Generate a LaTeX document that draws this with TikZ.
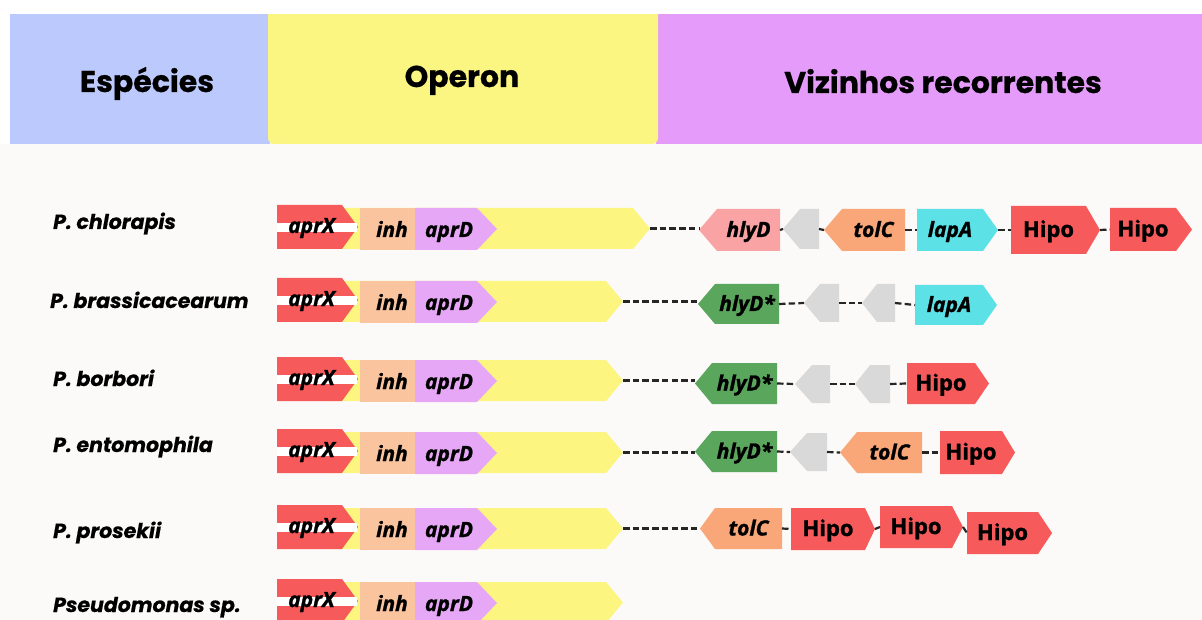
\documentclass[tikz,border=0pt]{standalone}
\usepackage{fontspec}
\setmainfont{Open Sans}
\newfontfamily\popfont{Poppins}[BoldFeatures={FakeBold=0.6},BoldItalicFeatures={FakeBold=0.6}]
\newfontfamily\osfont{Open Sans}[BoldFeatures={FakeBold=1.2},BoldItalicFeatures={FakeBold=1.2}]
\definecolor{bgc}{HTML}{FBFAF8}
\definecolor{hblue}{HTML}{BCC9FC}
\definecolor{hyel}{HTML}{FBF682}
\definecolor{hpur}{HTML}{E59BFA}
\definecolor{cred}{HTML}{F65A5A}
\definecolor{cyel}{HTML}{FCF680}
\definecolor{cinh}{HTML}{FAC49F}
\definecolor{capr}{HTML}{E6A8F6}
\definecolor{cpink}{HTML}{F9A3A5}
\definecolor{cgray}{HTML}{D9D9D9}
\definecolor{ctol}{HTML}{F9A778}
\definecolor{clap}{HTML}{5CE1E6}
\definecolor{cgreen}{HTML}{5AA65C}
\newcommand\geneR[7]{%
  \fill[#2] (#3,#6) -- (#4,#6) -- (#5,{(#6+#7)/2}) -- (#4,#7) -- (#3,#7) -- cycle;
  \coordinate (#1-w) at (#3,{(#6+#7)/2});
  \coordinate (#1-e) at (#5,{(#6+#7)/2});
  \coordinate (#1-c) at ({(#3+#4)/2},{(#6+#7)/2});}
\newcommand\geneL[7]{%
  \fill[#2] (#3,{(#6+#7)/2}) -- (#4,#6) -- (#5,#6) -- (#5,#7) -- (#4,#7) -- cycle;
  \coordinate (#1-w) at (#3,{(#6+#7)/2});
  \coordinate (#1-e) at (#5,{(#6+#7)/2});
  \coordinate (#1-c) at ({(#4+#5)/2},{(#6+#7)/2});}
\newcommand\operonrow[3]{%
  \geneR{#1yel}{cyel}{330}{#3-17}{#3}{#2-20}{#2+21}
  \geneR{#1X}{cred}{277}{342}{358}{#2-23}{#2+21}
  \fill[white] (277,{#2-5}) rectangle (357,{#2+4});
  \fill[cinh] (360,{#2-20}) rectangle (415,{#2+22});
  \coordinate (#1inh-c) at (387.5,#2);
  \geneR{#1D}{capr}{415}{477}{497}{#2-20}{#2+22}
  \node[glab,anchor=base] (#1Xt) at ([xshift=2pt,yshift=-6pt]#1X-c) {aprX};
  \node[glab,anchor=base] (#1inht) at (392,{#2+9}) {inh};
  \node[glab,anchor=base] (#1Dt) at (449,{#2+9}) {aprD};}
\begin{document}
\begin{tikzpicture}[x=1pt,y=-1pt,
  glab/.style={inner sep=0pt,font=\osfont\fontsize{21}{21}\selectfont\bfseries\itshape},
  hlab/.style={inner sep=0pt,font=\osfont\fontsize{22}{22}\selectfont\bfseries},
  sp/.style={inner sep=0pt,anchor=base west,font=\popfont\fontsize{20.5}{20.5}\selectfont\bfseries\itshape},
  hd/.style={inner sep=0pt,anchor=base,font=\popfont\fontsize{30}{30}\selectfont\bfseries},
  link/.style={draw=black!85,line width=2.2pt,dash pattern=on 6.5pt off 3.2pt}]
\useasboundingbox (0,0) rectangle (1202,620);
\begin{scope}
\clip (0,0) rectangle (1202,620);
\fill[bgc] (0,0) rectangle (1202,620);
\fill[white] (0,0) rectangle (1202,14);
\fill[white] (0,14) rectangle (10,144);
% header
\fill[hblue] (10,14) rectangle (270,144);
\fill[hpur] (656,14) rectangle (1202,144);
\fill[hyel,rounded corners=6pt] (268,8) -- (268,144) -- (658,144) -- (658,8) -- cycle;
\fill[hyel] (268,14) rectangle (658,40);
\fill[white] (260,0) rectangle (700,14);
\node[hd] (hesp) at (147,92) {Espécies};
\node[hd] (hop) at (462,87) {Operon};
\node[hd] (hviz) at (943,93) {Vizinhos recorrentes};
% species
\node[sp] (sp1) at (53,229) {P. chlorapis};
\node[sp] (sp2) at (50,308) {P. brassicacearum};
\node[sp] (sp3) at (53,386) {P. borbori};
\node[sp] (sp4) at (53,452) {P. entomophila};
\node[sp] (sp5) at (53,538) {P. prosekii};
\node[sp] (sp6) at (53,612) {Pseudomonas sp.};
% operons
\operonrow{a}{228}{650}
\operonrow{b}{301}{623}
\operonrow{c}{380}{623}
\operonrow{d}{452}{623}
\operonrow{e}{528}{623}
\operonrow{f}{602}{623}
% row 1 neighbours
\geneL{a1}{cpink}{699}{717}{780}{209}{251}
\geneL{a2}{cgray}{783}{800}{819}{209}{249}
\geneL{a3}{ctol}{824}{842}{905}{209}{251}
\geneR{a4}{clap}{917}{983}{998}{209}{251}
\geneR{a5}{cred}{1011}{1086}{1100}{206}{254}
\geneR{a6}{cred}{1110}{1176}{1192}{208}{251}
\node[glab,anchor=base] (a1t) at ([yshift=-7pt]a1-c) {hlyD};
\node[glab,anchor=base] (a3t) at ([yshift=-7pt]a3-c) {tolC};
\node[glab,anchor=base] (a4t) at ([yshift=-7pt]a4-c) {lapA};
\node[hlab,anchor=base] (a5t) at ([yshift=-7pt]a5-c) {Hipo};
\node[hlab,anchor=base] (a6t) at ([yshift=-7pt]a6-c) {Hipo};
\draw[link] (ayel-e) -- (ayel-e -| a1-w);
\draw[link] (a1-e) -- (a2-w);
\draw[link] (a2-e) -- (a3-w);
\draw[link] (a3-e) -- (a4-w);
\draw[link] (a4-e) -- (a5-w);
\draw[link] (a5-e) -- (a6-w);
% row 2
\geneL{b1}{cgreen}{698}{715}{779}{284}{324}
\geneL{b2}{cgray}{804}{820}{839}{284}{322}
\geneL{b3}{cgray}{862}{877}{895}{284}{322}
\geneR{b4}{clap}{915}{983}{997}{285}{325}
\node[glab,anchor=base] (b1t) at ([yshift=-7pt]b1-c) {hlyD*};
\node[glab,anchor=base] (b4t) at ([yshift=-7pt]b4-c) {lapA};
\draw[link] (byel-e) -- (byel-e -| b1-w);
\draw[link] (b1-e) -- (b2-w);
\draw[link] (b2-e) -- (b3-w);
\draw[link] (b3-e) -- (b4-w);
% row 3
\geneL{c1}{cgreen}{695}{712}{777}{363}{404}
\geneL{c2}{cgray}{795}{812}{830}{365}{403}
\geneL{c3}{cgray}{855}{870}{890}{365}{403}
\geneR{c4}{cred}{907}{975}{989}{363}{404}
\node[glab,anchor=base] (c1t) at ([yshift=-7pt]c1-c) {hlyD*};
\node[hlab,anchor=base] (c4t) at ([yshift=-7pt]c4-c) {Hipo};
\draw[link] (cyel-e) -- (cyel-e -| c1-w);
\draw[link] (c1-e) -- (c2-w);
\draw[link] (c2-e) -- (c3-w);
\draw[link] (c3-e) -- (c4-w);
% row 4
\geneL{d1}{cgreen}{695}{712}{777}{431}{472}
\geneL{d2}{cgray}{790}{807}{827}{433}{471}
\geneL{d3}{ctol}{840}{857}{922}{432}{473}
\geneR{d4}{cred}{940}{1002}{1015}{431}{474}
\node[glab,anchor=base] (d1t) at ([yshift=-7pt]d1-c) {hlyD*};
\node[glab,anchor=base] (d3t) at ([yshift=-7pt]d3-c) {tolC};
\node[hlab,anchor=base] (d4t) at ([yshift=-7pt]d4-c) {Hipo};
\draw[link] (dyel-e) -- (dyel-e -| d1-w);
\draw[link] (d1-e) -- (d2-w);
\draw[link] (d2-e) -- (d3-w);
\draw[link] (d3-e) -- (d4-w);
% row 5
\geneL{e1}{ctol}{700}{715}{782}{508}{549}
\geneR{e2}{cred}{791}{865}{875}{508}{550}
\geneR{e3}{cred}{880}{952}{963}{506}{548}
\geneR{e4}{cred}{967}{1038}{1052}{512}{554}
\node[glab,anchor=base] (e1t) at ([yshift=-7pt]e1-c) {tolC};
\node[hlab,anchor=base] (e2t) at ([yshift=-7pt]e2-c) {Hipo};
\node[hlab,anchor=base] (e3t) at ([yshift=-7pt]e3-c) {Hipo};
\node[hlab,anchor=base] (e4t) at ([yshift=-7pt]e4-c) {Hipo};
\draw[link] (eyel-e) -- (eyel-e -| e1-w);
\draw[link] (e1-e) -- (e2-w);
\draw[link] (e2-e) -- (e3-w);
\draw[link] (e3-e) -- (e4-w);
\end{scope}
\end{tikzpicture}
\end{document}
